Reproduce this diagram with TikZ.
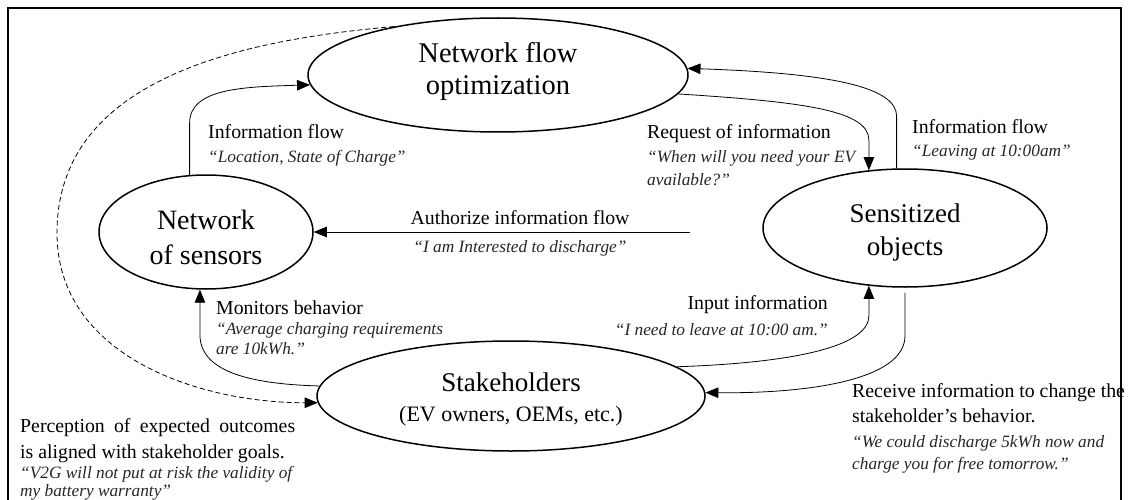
\documentclass[tikz,border=0pt]{standalone}
\usepackage{fontspec}
\setmainfont{Liberation Serif}
\usetikzlibrary{shapes.geometric,arrows.meta}
\newcommand\lowered[2]{\raisebox{#1}[\height][\depth]{\begin{tabular}{@{}c@{}}#2\end{tabular}}}
\begin{document}
\begin{tikzpicture}[x=1pt,y=1pt,
  oval/.style={draw, ellipse, line width=1.5pt, inner sep=0pt},
  conn/.style={line width=0.8pt, -{Triangle[length=13pt,width=10.5pt]}},
  head/.style={font=\fontsize{19.8}{24}\selectfont, inner sep=0pt},
  quote/.style={font=\fontsize{17.3}{22}\selectfont\itshape, inner sep=0pt, text=black!85},
]
\useasboundingbox (0,0) rectangle (1129,-500);
\draw[line width=1.4pt] (8,-505) -- (8,-8) -- (1121,-8) -- (1121,-505);

% ellipses
\node[oval, minimum width=380pt, minimum height=114pt, font=\fontsize{28.5}{32}\selectfont] (nfo) at (498,-75) {\lowered{3pt}{Network flow\\optimization}};
\node[oval, minimum width=214pt, minimum height=114pt, font=\fontsize{28}{35}\selectfont] (sens) at (206,-232) {\lowered{-8pt}{Network\\of sensors}};
\node[oval, minimum width=284pt, minimum height=118pt, font=\fontsize{27}{33}\selectfont] (obj) at (905,-228) {\lowered{-4pt}{Sensitized\\objects}};
\node[oval, minimum width=388pt, minimum height=110pt, font=\fontsize{27}{30}\selectfont] (stk) at (511,-396) {\lowered{-4pt}{Stakeholders\\\fontsize{22}{26}\selectfont (EV owners, OEMs, etc.)}};

% connectors
\draw[conn] (sens.106) -- ++(0,52) .. controls +(0,35) and +(-65,-2) .. (nfo.183);
\draw[conn] (obj.98) -- ++(0,52) .. controls +(0,28) and +(150,-5) .. (nfo.2);
\draw[conn] (nfo.354) .. controls +(125,-8) and +(0,30) .. ([yshift=30pt]obj.122) -- (obj.122);
\draw[conn, shorten <=5pt] (obj.south) -- ++(0,-48) .. controls +(0,-45) and +(100,-1) .. (stk.1);
\draw[conn] (stk.10) .. controls +(120,4) and +(0,-30) .. ([yshift=-30pt]obj.238) -- (obj.238);
\draw[conn] (stk.177) .. controls +(-75,2) and +(0,-35) .. ([yshift=-45pt]sens.264) -- (sens.264);
\coordinate (authstart) at (690,-232);
\draw[conn] (authstart) -- (sens.east);
\coordinate (dl) at (57,-233);
\draw[conn, dash pattern=on 5pt off 3pt] (nfo.155) to[out=185,in=90] (dl) to[out=270,in=180] (stk.182);

% labels
\node[head, anchor=base west] (l1h) at (208,-139) {Information flow};
\node[quote, anchor=base west] (l1q) at (208,-162) {“Location, State of Charge”};

\node[head, anchor=base west] (l2h) at (647,-139) {Request of information};
\node[quote, anchor=base west] (l2q1) at (647,-162) {\makebox[208pt][s]{“When will you need your EV}};
\node[quote, anchor=base west] (l2q2) at (647,-185) {available?”};

\node[head, anchor=base west] (l3h) at (912,-134) {Information flow};
\node[quote, anchor=base west] (l3q) at (912,-156) {“Leaving at 10:00am”};

\node[head, anchor=base] (l4h) at (520,-224) {Authorize information flow};
\node[quote, anchor=base] (l4q) at (520,-252) {“I am Interested to discharge”};

\node[head, anchor=base west] (l5h) at (216,-314) {Monitors behavior};
\node[quote, anchor=base west] (l5q1) at (216,-334) {“Average charging requirements};
\node[quote, anchor=base west] (l5q2) at (216,-354) {are 10kWh.”};

\node[head, anchor=base east] (l6h) at (828,-309) {Input information};
\node[quote, anchor=base east] (l6q) at (828,-335) {“I need to leave at 10:00 am.”};

\node[head, anchor=base west] (l7h1) at (852,-397) {Receive information to change the};
\node[head, anchor=base west] (l7h2) at (852,-422) {stakeholder’s behavior.};
\node[quote, anchor=base west] (l7q1) at (852,-447) {“We could discharge 5kWh now and};
\node[quote, anchor=base west] (l7q2) at (852,-469) {charge you for free tomorrow.”};

\node[head, anchor=base west] (l8h1) at (20,-432) {\makebox[275pt][s]{Perception of expected outcomes}};
\node[head, anchor=base west] (l8h2) at (20,-458) {is aligned with stakeholder goals.};
\node[quote, anchor=base west] (l8q1) at (20,-478) {“V2G will not put at risk the validity of};
\node[quote, anchor=base west] (l8q2) at (20,-496) {my battery warranty”};
\end{tikzpicture}
\end{document}
